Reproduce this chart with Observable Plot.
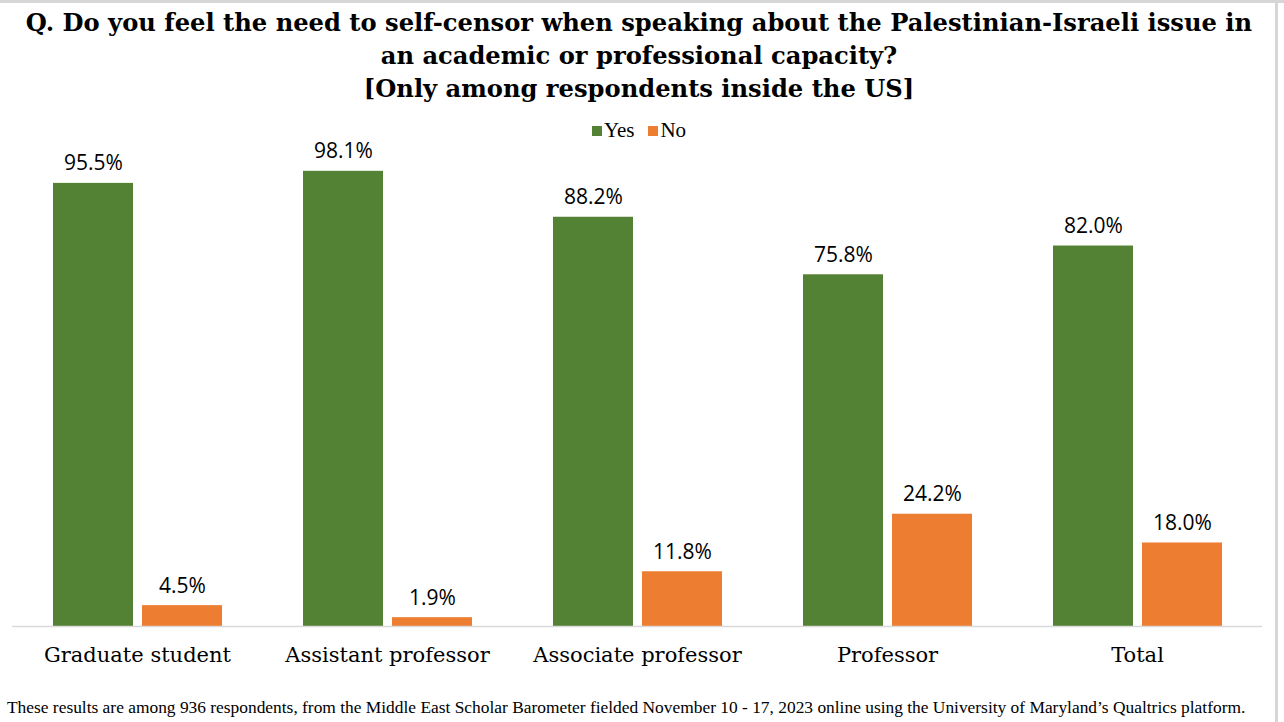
<!DOCTYPE html>
<html>
<head>
<meta charset="utf-8">
<script src="https://cdn.jsdelivr.net/npm/d3@7"></script>
<script src="https://cdn.jsdelivr.net/npm/@observablehq/plot@0.6"></script>
<style>
  html, body { margin: 0; padding: 0; background: #fff; }
  #page { position: relative; width: 1284px; height: 722px; overflow: hidden; }
  #topbar { position: absolute; left: 0; top: 0; width: 1284px; height: 3px; background: #d6d6d6; }
  #rightbar { position: absolute; left: 1275px; top: 0; width: 3px; height: 722px; background: #d6d6d6; }
  #title { position: absolute; left: 0; top: 6px; width: 1278px; text-align: center;
    font-family: "DejaVu Serif", serif; font-weight: bold; font-size: 24.2px; line-height: 33px; color: #000; }
  #legend { position: absolute; left: 0; top: 118px; width: 1278px; text-align: center;
    font-family: "Liberation Serif", serif; font-size: 21px; color: #000; }
  #legend .sw { display: inline-block; width: 10px; height: 10px; margin-right: 2px; vertical-align: 1px; }
  #legend .item { margin: 0 7px; }
  #chart { position: absolute; left: 0; top: 145px; }
  #footer { position: absolute; left: 7px; top: 697px; white-space: nowrap;
    font-family: "Liberation Serif", serif; font-size: 17.4px; color: #000; }
</style>
</head>
<body>
<div id="page">
  <div id="topbar"></div>
  <div id="rightbar"></div>
  <div id="title">Q. Do you feel the need to self-censor when speaking about the Palestinian-Israeli issue in<br>an academic or professional capacity?<br>[Only among respondents inside the US]</div>
  <div id="legend"></div>
  <div id="chart"></div>
  <div id="footer">These results are among 936 respondents, from the Middle East Scholar Barometer fielded November 10 - 17, 2023 online using the University of Maryland’s Qualtrics platform.</div>
</div>
<script>
const categories = ["Graduate student", "Assistant professor", "Associate professor", "Professor", "Total"];
const seriesNames = ["Yes", "No"];
const yesValues = [95.5, 98.1, 88.2, 75.8, 82.0];
const noValues = [4.5, 1.9, 11.8, 24.2, 18.0];
const colors = ["#548235", "#ED7D31"];

const data = [];
categories.forEach((c, i) => {
  data.push({category: c, series: "Yes", value: yesValues[i]});
  data.push({category: c, series: "No", value: noValues[i]});
});

// legend
const legend = document.getElementById("legend");
seriesNames.forEach((s, i) => {
  const span = document.createElement("span");
  span.className = "item";
  span.innerHTML = `<span class="sw" style="background:${colors[i]}"></span>${s}`;
  legend.appendChild(span);
});

const chart = Plot.plot({
  width: 1284,
  height: 535,
  marginLeft: 12,
  marginRight: 22,
  marginTop: 17,
  marginBottom: 54,
  fx: {domain: categories, padding: 0, label: null, axis: "bottom", tickSize: 0, tickPadding: 21},
  x: {domain: seriesNames, paddingInner: 9 / 89, paddingOuter: 0.455, axis: null},
  y: {domain: [0, 100], axis: null},
  color: {domain: seriesNames, range: colors},
  style: {fontFamily: "DejaVu Serif, serif", fontSize: "21px", color: "#000", overflow: "visible"},
  marks: [
    Plot.barY(data, {fx: "category", x: "series", y: "value", fill: "series"}),
    Plot.ruleY([0], {stroke: "#d9d9d9", strokeWidth: 1.5}),
    Plot.text(data, {fx: "category", x: "series", y: "value", text: d => d.value.toFixed(1) + "%",
      lineAnchor: "bottom", dy: -13, fontFamily: "Open Sans, sans-serif", fontSize: 21, fill: "#000"})
  ]
});
document.getElementById("chart").appendChild(chart);
</script>
</body>
</html>
